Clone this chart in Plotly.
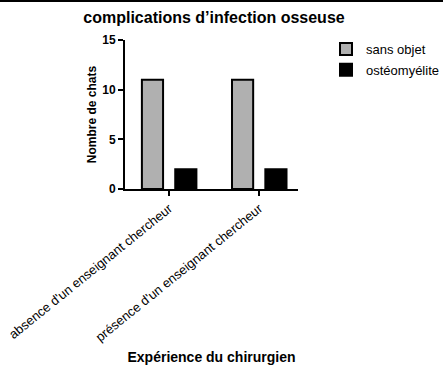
import plotly.graph_objects as go

# Data
categories = ["absence d'un enseignant chercheur", "présence d'un enseignant chercheur"]
sans_objet = [11, 11]
osteomyelite = [2, 2]
y_ticks = [0, 5, 10, 15]

FONT = "Liberation Sans, Arial, Helvetica, sans-serif"

W, H = 443, 365
ML, MR, MT, MB = 125, 145, 40, 176

fig = go.Figure()
fig.add_trace(go.Bar(
    name="sans objet", x=categories, y=sans_objet,
    marker=dict(color="#b0b0b0", line=dict(color="black", width=2)),
    legendgroup="a",
))
fig.add_trace(go.Bar(
    name="ostéomyélite", x=categories, y=osteomyelite,
    marker=dict(color="black", line=dict(color="black", width=2)),
    legendgroup="b",
))

plot_w = W - ML - MR
plot_h = H - MT - MB

fig.update_layout(
    width=W, height=H,
    margin=dict(l=ML, r=MR, t=MT, b=MB, autoexpand=False),
    paper_bgcolor="white", plot_bgcolor="white",
    barmode="group", bargap=0.26, bargroupgap=0.365,
    font=dict(family=FONT, color="black"),
    title=dict(
        text="complications d’infection osseuse",
        font=dict(family=FONT, size=16, color="black", weight="bold"),
        x=214 / W, xanchor="center", y=1 - 17 / H, yanchor="middle",
        xref="container", yref="container",
    ),
    showlegend=True,
    legend=dict(
        x=1 + (326 - (W - MR)) / plot_w, xanchor="left",
        y=1 + 6 / plot_h, yanchor="top",
        font=dict(family=FONT, size=13, color="black"),
        traceorder="grouped", tracegroupgap=1,
        bgcolor="rgba(0,0,0,0)",
    ),
    xaxis=dict(
        range=[-0.49, 1.43],
        showline=True, linecolor="black", linewidth=2,
        ticks="outside", ticklen=5, tickwidth=2, tickcolor="black",
        tickangle=-39,
        tickfont=dict(family=FONT, size=13, color="black"),
        showgrid=False, zeroline=False,
        title=dict(text="Expérience du chirurgien",
                   font=dict(family=FONT, size=14, color="black", weight="bold"),
                   standoff=11),
        automargin=False,
    ),
    yaxis=dict(
        range=[0, 15],
        tickvals=y_ticks,
        showline=True, linecolor="black", linewidth=2,
        ticks="outside", ticklen=5, tickwidth=2, tickcolor="black",
        tickfont=dict(family=FONT, size=12, color="black", weight="bold"),
        showgrid=False, zeroline=False,
        title=dict(text="Nombre de chats",
                   font=dict(family=FONT, size=12, color="black", weight="bold"),
                   standoff=3),
        automargin=False,
    ),
    shapes=[dict(
        type="line", xref="paper", yref="paper",
        x0=-ML / plot_w, x1=1 + MR / plot_w,
        y0=1 + (MT - 1) / plot_h, y1=1 + (MT - 1) / plot_h,
        line=dict(color="black", width=2),
    )],
)

fig.write_html("out.html")
